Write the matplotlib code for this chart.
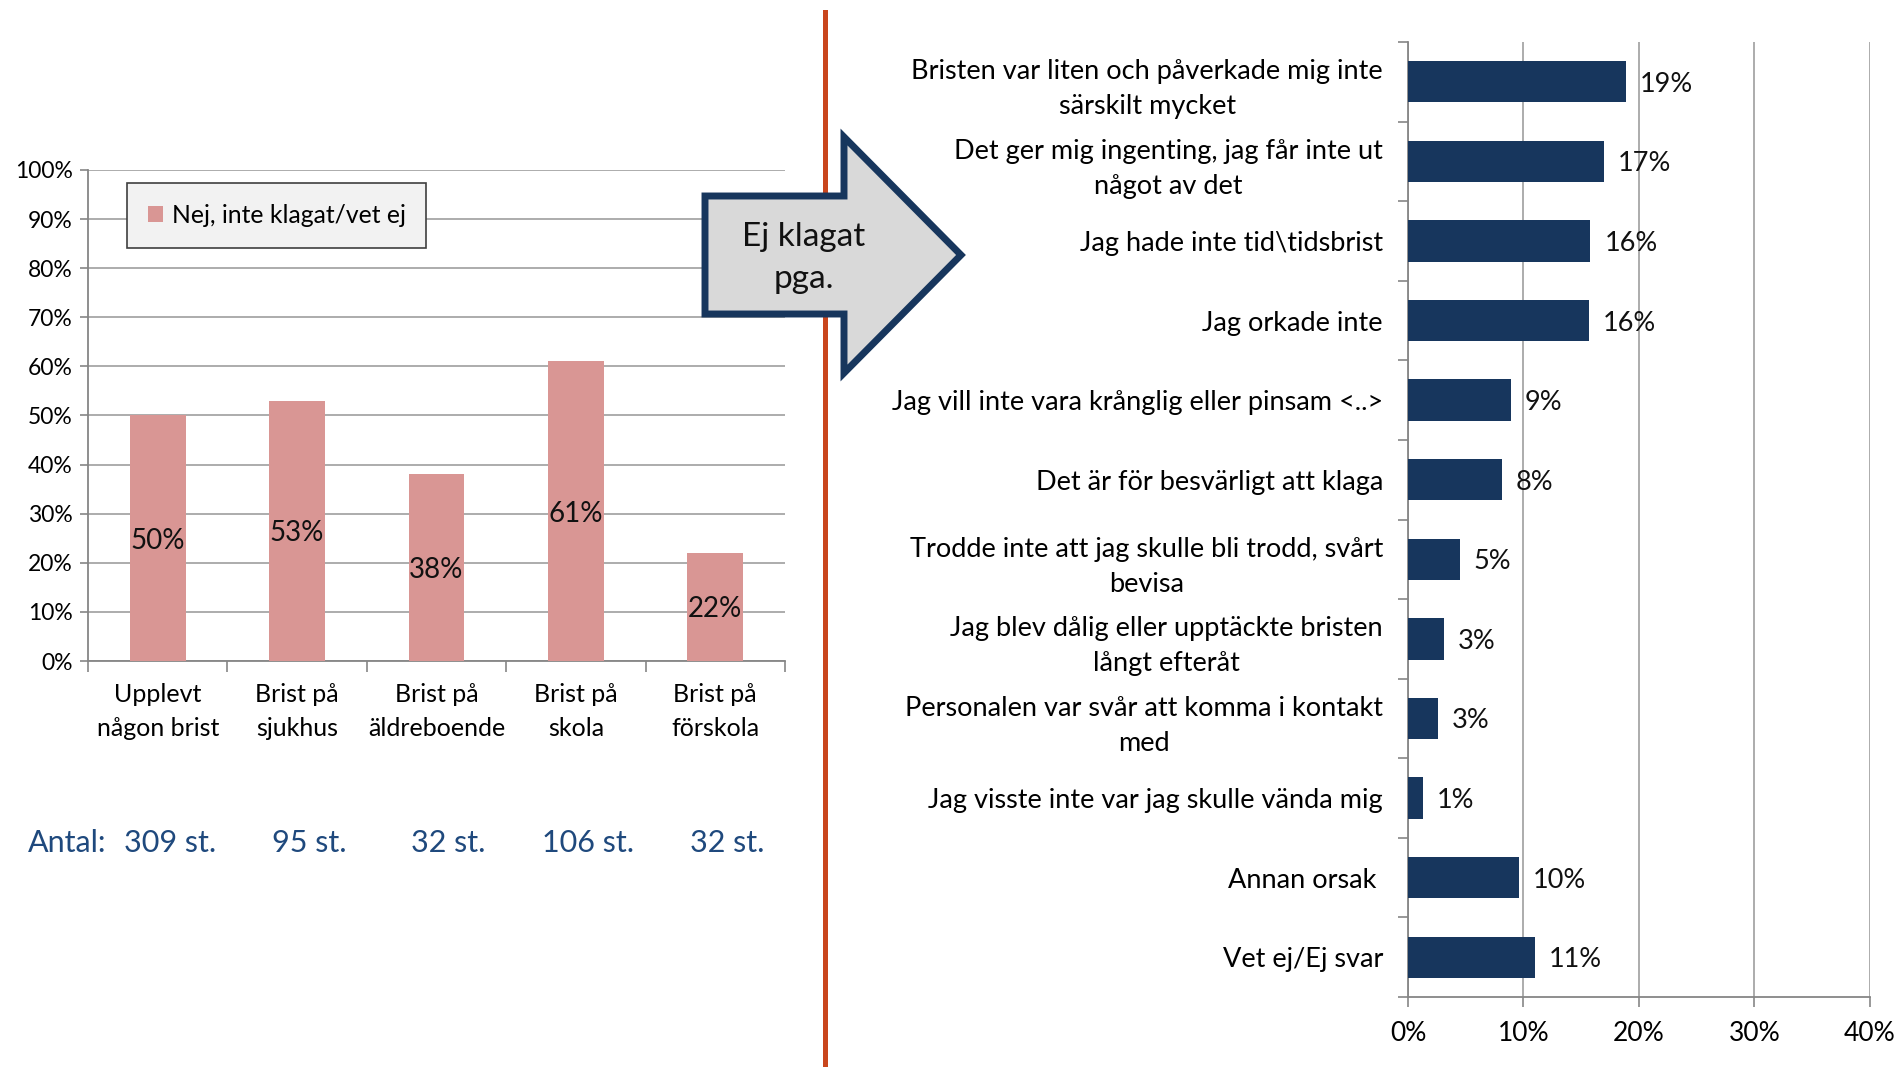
import matplotlib as mpl
mpl.use('Agg')
import matplotlib.pyplot as plt
from matplotlib.patches import Polygon, Patch
from matplotlib.lines import Line2D
import numpy as np

plt.rcParams['font.family'] = ['Lato', 'DejaVu Sans']

# left chart data
left_cats = ['Upplevt\nnågon brist', 'Brist på\nsjukhus', 'Brist på\näldreboende',
             'Brist på\nskola', 'Brist på\nförskola']
left_vals = [50, 53, 38, 61, 22]
left_counts = ['309 st.', '95 st.', '32 st.', '106 st.', '32 st.']
legend_label = 'Nej, inte klagat/vet ej'

# right chart data
right_cats = ['Bristen var liten och påverkade mig inte\nsärskilt mycket',
              'Det ger mig ingenting, jag får inte ut\nnågot av det',
              'Jag hade inte tid\\tidsbrist',
              'Jag orkade inte',
              'Jag vill inte vara krånglig eller pinsam <..>',
              'Det är för besvärligt att klaga',
              'Trodde inte att jag skulle bli trodd, svårt\nbevisa',
              'Jag blev dålig eller upptäckte bristen\nlångt efteråt',
              'Personalen var svår att komma i kontakt\nmed',
              'Jag visste inte var jag skulle vända mig',
              'Annan orsak ',
              'Vet ej/Ej svar']
right_vals = [18.9, 17.0, 15.8, 15.7, 8.9, 8.1, 4.5, 3.1, 2.6, 1.3, 9.6, 11.0]
right_labels = ['19%', '17%', '16%', '16%', '9%', '8%', '5%', '3%', '3%', '1%', '10%', '11%']

PINK = '#d99694'
NAVY = '#17365d'
GRID = '#a6a6a6'
SPINE = '#868686'
W, H = 1899, 1067

fig = plt.figure(figsize=(W / 100, H / 100), dpi=100)

# ---------------- left chart
ax1 = fig.add_axes([88 / W, 1 - 661 / H, (785 - 88) / W, (661 - 170) / H])
x = np.arange(len(left_vals))
ax1.bar(x, left_vals, width=0.4, color=PINK, zorder=3)
for xi, v in zip(x, left_vals):
    ax1.text(xi, v / 2, '%d%%' % v, ha='center', va='center_baseline', fontsize=20,
             color='#111111', zorder=4)
ax1.set_xlim(-0.5, len(left_vals) - 0.5)
ax1.set_ylim(0, 100)
ax1.set_yticks(np.arange(0, 101, 10))
ax1.set_yticklabels(['%d%%' % t for t in range(0, 101, 10)], fontsize=16.5)
ax1.set_xticks(x)
ax1.set_xticklabels(left_cats, fontsize=18, linespacing=1.55)
ax1.set_xticks(np.arange(-0.5, len(left_vals)), minor=True)
ax1.tick_params(axis='x', which='major', length=0, pad=16)
ax1.tick_params(axis='x', which='minor', length=8, color=SPINE, width=1.2)
ax1.tick_params(axis='y', length=6, color=SPINE, width=1.2, pad=5)
ax1.grid(axis='y', color=GRID, linewidth=1.3, zorder=0)
for s in ['top', 'right']:
    ax1.spines[s].set_visible(False)
for s in ['left', 'bottom']:
    ax1.spines[s].set_color(SPINE)
    ax1.spines[s].set_linewidth(1.3)

leg = ax1.legend([Patch(facecolor=PINK)], [legend_label], loc='upper left',
                 bbox_to_anchor=(127 / W, 1 - 183 / H), bbox_transform=fig.transFigure,
                 fontsize=17.8, fancybox=False, framealpha=1, borderpad=0.85,
                 handlelength=0.6, handleheight=0.6, handletextpad=0.35, borderaxespad=0)
leg.get_frame().set_facecolor('#f2f2f2')
leg.get_frame().set_edgecolor('#3f3f3f')
leg.get_frame().set_linewidth(1.2)

# Antal row
fig.text(28 / W, 1 - 843 / H, 'Antal:', fontsize=22, color='#1f497d', va='center', ha='left')
for xi, c in zip(x, left_counts):
    xd = ax1.transData.transform((xi, 0))[0] + 12
    fig.text(xd / W, 1 - 843 / H, c, fontsize=22, color='#1f497d', va='center', ha='center')

# ---------------- right chart
ax2 = fig.add_axes([1408 / W, 1 - 997 / H, (1870 - 1408) / W, (997 - 42) / H])
y = np.arange(len(right_vals))
ax2.barh(y, right_vals, height=0.52, color=NAVY, zorder=3)
for yi, v, lab in zip(y, right_vals, right_labels):
    ax2.annotate(lab, (v, yi), xytext=(10, 0), textcoords='offset points',
                 ha='left', va='center_baseline', fontsize=19.5, color='#111111')
ax2.set_ylim(len(right_vals) - 0.5, -0.5)
ax2.set_xlim(0, 40)
ax2.set_xticks(np.arange(0, 41, 10))
ax2.set_xticklabels(['%d%%' % t for t in range(0, 41, 10)], fontsize=19)
ax2.set_yticks(y)
ax2.set_yticklabels(right_cats, fontsize=19.5, linespacing=1.5, multialignment='center')
ax2.set_yticks(np.arange(-0.5, len(right_vals)), minor=True)
ax2.tick_params(axis='y', which='major', length=0, pad=18)
ax2.tick_params(axis='y', which='minor', length=7, color=SPINE, width=1.2)
ax2.tick_params(axis='x', length=7, color=SPINE, width=1.2, pad=10)
ax2.grid(axis='x', color=GRID, linewidth=1.3, zorder=0)
for s in ['top', 'right']:
    ax2.spines[s].set_visible(False)
for s in ['left', 'bottom']:
    ax2.spines[s].set_color(SPINE)
    ax2.spines[s].set_linewidth(1.3)

# ---------------- divider and arrow
fig.add_artist(Line2D([825 / W, 825 / W], [0, 1 - 12 / H], transform=fig.transFigure,
                      color='#c9461d', linewidth=3.6, zorder=5))

arrow_px = [(705, 196), (844, 196), (844, 137), (961, 255), (844, 373), (844, 314), (705, 314)]
arrow = Polygon([(px / W, 1 - py / H) for px, py in arrow_px], closed=True,
                transform=fig.transFigure, facecolor='#d9d9d9', edgecolor=NAVY,
                linewidth=5, joinstyle='miter', zorder=6)
fig.add_artist(arrow)
fig.text(804 / W, 1 - 258 / H, 'Ej klagat\npga.', fontsize=24, ha='center', va='center',
         color='#111111', linespacing=1.5, zorder=7)

plt.savefig('out.png', dpi=100)
